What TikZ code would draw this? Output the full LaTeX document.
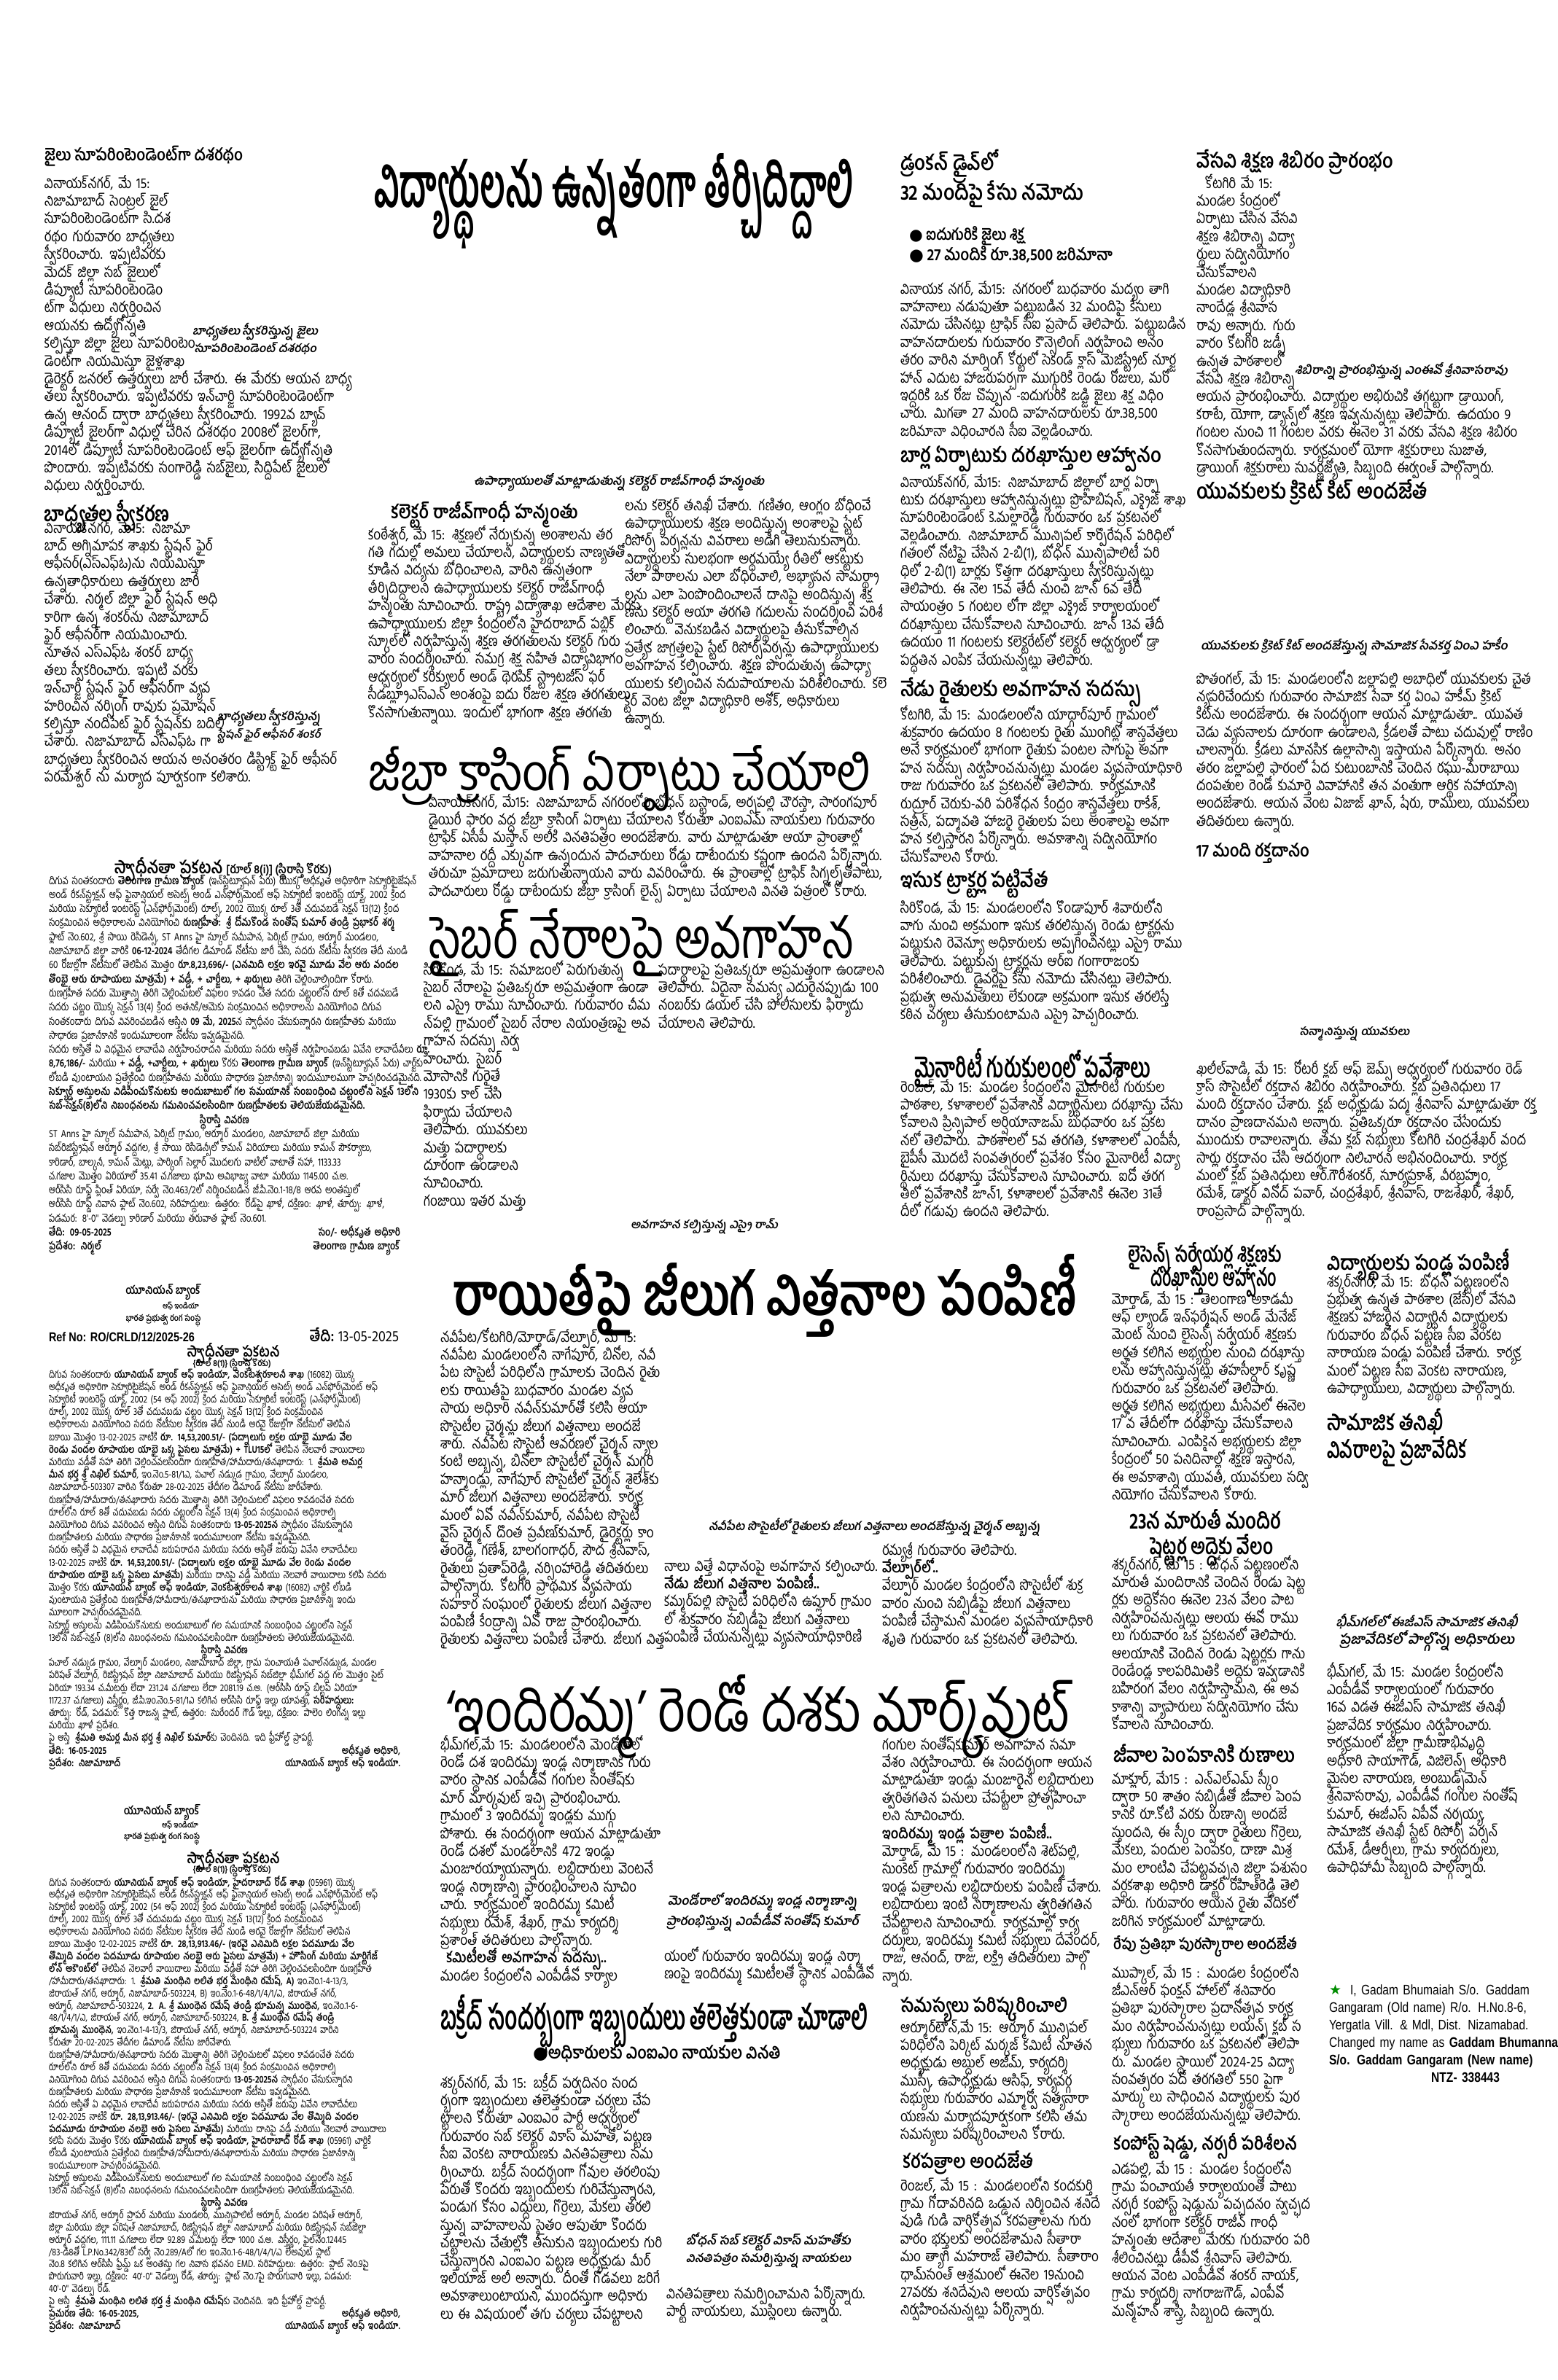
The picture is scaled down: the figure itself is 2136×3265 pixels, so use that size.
\documentclass[tikz,border=0pt]{standalone}
\usepackage{fontspec}
\usepackage{graphicx}
\newfontfamily\tel[Script=Telugu,FakeStretch=0.86]{Hind Guntur}
\newfontfamily\teladd[Script=Telugu,FakeStretch=0.8]{Hind Guntur}
\newfontfamily\telsl[Script=Telugu,FakeSlant=0.18]{Hind Guntur}
\newfontfamily\sym{DejaVu Sans}
\newfontfamily\nsans[FakeStretch=0.82]{Liberation Sans}
\newlength{\pxu}
\setlength{\pxu}{0.5pt}
\newcommand{\fitw}[2]{\resizebox{#1\pxu}{!}{#2}}
\newcommand{\fitwh}[3]{\resizebox{#1\pxu}{#2\pxu}{#3}}
\newcommand{\jrow}[2][\hsize]{\hbox to #1{#2}\break}
\newcommand{\erow}[1]{\hbox{#1}\break}

\begin{document}
\begin{tikzpicture}
  [x=0.5pt, y=-0.5pt,
   every node/.style={inner sep=0pt, outer sep=0pt, anchor=north west, font=\tel},
   txt/.style={anchor=base west, text width=#1, font=\tel\fontsize{10pt}{12.2pt}\selectfont,
     execute at begin node={\lineskiplimit=-100pt\lineskip=0pt\relax},
     execute at end node={\unskip\unpenalty}},
   adtxt/.style 2 args={anchor=base west, text width=241pt, font=\teladd\fontsize{#1}{#2}\selectfont,
     execute at begin node={\lineskiplimit=-100pt\lineskip=0pt\relax},
     execute at end node={\unskip\unpenalty}},
   hd/.style={font=\tel\bfseries},
   th/.style={font=\tel},
   photocap/.style={font=\telsl\bfseries, align=center}]
  \fill[white] (0,0) rectangle (2136,3265);
  \useasboundingbox (0,0) rectangle (2136,3265);

  % left column: news
  \node[hd] (jailhead) at (61,200) {\fitw{272}{జైలు సూపరింటెండెంట్‌గా దశరథం}};
  \node[txt=191.5pt] (jailtext) at (61,258) {%
    \jrow[94pt]{వినాయక్‌నగర్, మే 15:}
    \jrow[94pt]{నిజామాబాద్ సెంట్రల్ జైల్}
    \jrow[94pt]{సూపరింటెండెంట్‌గా సి.దశ}
    \jrow[94pt]{రథం గురువారం బాధ్యతలు}
    \jrow[94pt]{స్వీకరించారు. ఇప్పటివరకు}
    \jrow[94pt]{మెదక్ జిల్లా సబ్ జైలులో}
    \jrow[94pt]{డిప్యూటీ సూపరింటెండెం}
    \jrow[94pt]{ట్‌గా విధులు నిర్వర్తించిన}
    \jrow[94pt]{ఆయనకు ఉద్యోగోన్నతి}
    \jrow[97pt]{కల్పిస్తూ జిల్లా జైలు సూపరింటెం}
    \jrow[97pt]{డెంట్‌గా నియమిస్తూ జైళ్లశాఖ}
    \jrow{డైరెక్టర్ జనరల్ ఉత్తర్వులు జారీ చేశారు. ఈ మేరకు ఆయన బాధ్య}
    \jrow{తలు స్వీకరించారు. ఇప్పటివరకు ఇన్‌చార్జి సూపరింటెండెంట్‌గా}
    \jrow{ఉన్న ఆనంద్ ద్వారా బాధ్యతలు స్వీకరించారు. 1992వ బ్యాచ్}
    \jrow{డిప్యూటీ జైలర్‌గా విధుల్లో చేరిన దశరథం 2008లో జైలర్‌గా,}
    \jrow{2014లో డిప్యూటీ సూపరింటెండెంట్ ఆఫ్ జైలర్‌గా ఉద్యోగోన్నతి}
    \jrow{పొందారు. ఇప్పటివరకు సంగారెడ్డి సబ్‌జైలు, సిద్దిపేట్ జైలులో}
    \erow{విధులు నిర్వర్తించారు.}};
  \node[photocap] (jailcap) at (264,443) {\fitw{172}{బాధ్యతలు స్వీకరిస్తున్న జైలు}\\\fitw{168}{సూపరింటెండెంట్ దశరథం}};

  \node[hd] (firehead) at (61,686) {\fitw{172}{బాధ్యతల స్వీకరణ}};
  \node[txt=191.5pt] (firetext) at (61,731) {%
    \jrow[107.5pt]{వినాయక్‌నగర్, మే15: నిజామా}
    \jrow[107.5pt]{బాద్ అగ్నిమాపక శాఖకు స్టేషన్ ఫైర్}
    \jrow[107.5pt]{ఆఫీసర్(ఎస్ఎఫ్ఓ)ను నియమిస్తూ}
    \jrow[107.5pt]{ఉన్నతాధికారులు ఉత్తర్వులు జారీ}
    \jrow[107.5pt]{చేశారు. నిర్మల్ జిల్లా ఫైర్ స్టేషన్ అధి}
    \jrow[107.5pt]{కారిగా ఉన్న శంకర్‌ను నిజామాబాద్}
    \jrow[107.5pt]{ఫైర్ ఆఫీసర్‌గా నియమించారు.}
    \jrow[107.5pt]{నూతన ఎస్ఎఫ్ఓ శంకర్ బాధ్య}
    \jrow[107.5pt]{తలు స్వీకరించారు. ఇప్పటి వరకు}
    \jrow[107.5pt]{ఇన్‌చార్జి స్టేషన్ ఫైర్ ఆఫీసర్‌గా వ్యవ}
    \jrow[107.5pt]{హరించిన నర్సింగ్ రావుకు ప్రమోషన్}
    \jrow[113pt]{కల్పిస్తూ నందిపేట్ ఫైర్ స్టేషన్‌కు బదిలీ}
    \jrow[107.5pt]{చేశారు. నిజామాబాద్ ఎస్ఎఫ్ఓ గా}
    \jrow{బాధ్యతలు స్వీకరించిన ఆయన అనంతరం డిస్ట్రిక్ట్ ఫైర్ ఆఫీసర్}
    \erow{పరమేశ్వర్ ను మర్యాద పూర్వకంగా కలిశారు.}};
  \node[photocap] (firecap) at (298,972) {\fitw{142}{బాధ్యతలు స్వీకరిస్తున్న}\\\fitw{142}{స్టేషన్ ఫైర్ ఆఫీసర్ శంకర్}};

  % left column: notices
  \node[hd, anchor=north] (ad1head) at (306,1176) {\fitw{298}{స్వాధీనతా ప్రకటన {\fontsize{7pt}{8pt}\selectfont [రూల్ 8(i)] (స్థిరాస్తి కొరకు)}}};
  \node[adtxt={7.3pt}{9.65pt}] (ad1text) at (67,1213) {%
    \jrow{దిగువ సంతకందారు \textbf{తెలంగాణ గ్రామీణ బ్యాంక్} (ఇన్‌స్టిట్యూషన్ పేరు) యొక్క అధీకృత అధికారిగా సెక్యూరిటైజేషన్}
    \jrow{అండ్ రీకన్‌స్ట్రక్షన్ ఆఫ్ ఫైనాన్షియల్ అసెట్స్ అండ్ ఎన్‌ఫోర్స్‌మెంట్ ఆఫ్ సెక్యూరిటీ ఇంటరెస్ట్ యాక్ట్, 2002 క్రింద}
    \jrow{మరియు సెక్యూరిటీ ఇంటరెస్ట్ (ఎన్‌ఫోర్స్‌మెంట్) రూల్స్, 2002 యొక్క రూల్ 3తో చదువబడే సెక్షన్ 13(12) క్రింద}
    \jrow{సంక్రమించిన అధికారాలను వినియోగించి \textbf{రుణగ్రహీత: శ్రీ దోమకొండ సంతోష్ కుమార్ తండ్రి ప్రభాకర్ శర్మ}}
    \jrow{ఫ్లాట్ నెం.602, శ్రీ సాయి రెసిడెన్సీ, ST Anns హై స్కూల్ సమీపాన, పెర్కిట్ గ్రామం, ఆర్మూర్ మండలం,}
    \jrow{నిజామాబాద్ జిల్లా వారికి \textbf{06-12-2024} తేదీగల డిమాండ్ నోటీసు జారీ చేసి, సదరు నోటీసు స్వీకరణ తేదీ నుండి}
    \jrow{60 రోజుల్లోగా నోటీసులో తెలిపిన మొత్తం \textbf{రూ.8,23,696/- (ఎనమిది లక్షల ఇరవై మూడు వేల ఆరు వందల}}
    \erow{\textbf{తొంభై ఆరు రూపాయలు మాత్రమే) + వడ్డీ, + చార్జీలు, + ఖర్చులు} తిరిగి చెల్లించాల్సిందిగా కోరారు.}
    \jrow{రుణగ్రహీత సదరు మొత్తాన్ని తిరిగి చెల్లించుటలో విఫలం కావడం చేత సదరు చట్టంలోని రూల్ 8తో చదవబడే}
    \jrow{సదరు చట్టం యొక్క సెక్షన్ 13(4) క్రింద అతనికి/ఆమెకు సంక్రమించిన అధికారాలను వినియోగించి దిగువ}
    \jrow{సంతకందారు దిగువ వివరించబడిన ఆస్తిని \textbf{09 మే, 2025}న స్వాధీనం చేసుకున్నారని రుణగ్రహీతకు మరియు}
    \erow{సాధారణ ప్రజానీకానికి ఇందుమూలంగా నోటీసు ఇవ్వడమైనది.}
    \jrow{సదరు ఆస్తితో ఏ విధమైన లావాదేవి నిర్వహించరాదని మరియు సదరు ఆస్తితో నిర్వహించబడు ఏవేని లావాదేవీలు \textbf{రూ.}}
    \jrow{\textbf{8,76,186/-} మరియు \textbf{+ వడ్డీ, +చార్జీలు, + ఖర్చులు} కొరకు \textbf{తెలంగాణ గ్రామీణ బ్యాంక్} (ఇన్‌స్టిట్యూషన్ పేరు) చార్జ్‌కు}
    \jrow{లోబడి వుంటాయని ప్రత్యేకించి రుణగ్రహీతను మరియు సాధారణ ప్రజానీకాన్ని ఇందుమూలముగా హెచ్చరించడమైనది.}
    \jrow{\textbf{సెక్యూర్డ్ అస్తులను విడిపించుకొనుటకు అందుబాటులో గల సమయానికి సంబంధించి చట్టంలోని సెక్షన్ 13లోని}}
    \erow{\textbf{సబ్-సెక్షన్(8)లోని నిబంధనలను గమనించవలసిందిగా రుణగ్రహీతలకు తెలియజేయడమైనది.}}
    \jrow{\hfil\textbf{స్థిరాస్తి వివరణ}\hfil}
    \jrow{ST Anns హై స్కూల్ సమీపాన, పెర్కిట్ గ్రామం, ఆర్మూర్ మండలం, నిజామాబాద్ జిల్లా మరియు}
    \jrow{సబ్‌రిజిస్ట్రేషన్ ఆర్మూర్ వద్దగల, శ్రీ సాయి రెసిడెన్సీలో కామన్ ఏరియాలు మరియు కామన్ సౌకర్యాలు,}
    \jrow{కారిడార్, బాల్కనీ, కామన్ మెట్లు, పార్కింగ్ సెల్లార్ మొదలగు వాటిలో వాటాతో సహా, 1133.33}
    \jrow{చ.గజాల మొత్తం ఏరియాలో 35.41 చ.గజాలు భూమి అవిభాజ్య వాటా మరియు 1145.00 చ.అ.}
    \jrow{ఆర్‌సిసి రూఫ్డ్ ప్లింత్ ఏరియా, సర్వే నెం.463/2లో నిర్మించబడిన జీ.పి.నెం.1-18/8 ఆరవ అంతస్తులో}
    \jrow{ఆర్‌సిసి రూఫ్డ్ నివాస ఫ్లాట్ నెం.602, సరిహద్దులు: ఉత్తరం: రోడ్‌పై ఖాళీ, దక్షిణం: ఖాళీ, తూర్పు: ఖాళీ,}
    \erow{పడమర: 8'-0'' వెడల్పు కారిడార్ మరియు తరువాత ఫ్లాట్ నెం.601.}
    \jrow{\textbf{తేది: 09-05-2025}\hfil\textbf{సం/- అధీకృత అధికారి}}
    \jrow{\textbf{ప్రదేశం: నిర్మల్}\hfil\textbf{తెలంగాణ గ్రామీణ బ్యాంక్}}};

  \node[hd, anchor=north] (ad2bank) at (224,1762) {\fitw{103}{యూనియన్ బ్యాంక్}};
  \node[hd, anchor=north] (ad2of) at (248,1786) {\fitw{50}{ఆఫ్ ఇండియా}};
  \node[hd, anchor=north] (ad2gov) at (224,1803) {\fitw{103}{భారత ప్రభుత్వ రంగ సంస్థ}};
  \node[anchor=base west] (ad2ref) at (67,1840) {\fitw{200}{\nsans\bfseries Ref No: RO/CRLD/12/2025-26}};
  \node[anchor=base east] (ad2date) at (547,1840) {\fitw{122}{\textbf{తేది:} 13-05-2025}};
  \node[hd, anchor=north] (ad2title) at (320,1843) {\fitw{127}{స్వాధీనతా ప్రకటన}};
  \node[hd, anchor=north] (ad2rule) at (318,1864) {\fitw{107}{\{రూల్ 8(1)\} (స్థిరాస్తి కొరకు)}};
  \node[adtxt={6.9pt}{8.6pt}] (ad2text) at (67,1890) {%
    \jrow{దిగువ సంతకందారు \textbf{యూనియన్ బ్యాంక్ ఆఫ్ ఇండియా, వెంకటేశ్వరకాలనీ శాఖ} (16082) యొక్క}
    \jrow{అధీకృత అధికారిగా సెక్యూరిటైజేషన్ అండ్ రీకన్‌స్ట్రక్షన్ ఆఫ్ ఫైనాన్షియల్ అసెట్స్ అండ్ ఎన్‌ఫోర్స్‌మెంట్ ఆఫ్}
    \jrow{సెక్యూరిటీ ఇంటరెస్ట్ యాక్ట్, 2002 (54 ఆఫ్ 2002) క్రింద మరియు సెక్యూరిటీ ఇంటరెస్ట్ (ఎన్‌ఫోర్స్‌మెంట్)}
    \jrow{రూల్స్, 2002 యొక్క రూల్ 3తో చదువబడు చట్టం యొక్క సెక్షన్ 13(12) క్రింద సంక్రమించిన}
    \jrow{అధికారాలను వినియోగించి సదరు నోటీసుల స్వీకరణ తేదీ నుండి అరవై రోజుల్లోగా నోటీసులో తెలిపిన}
    \jrow{బకాయి మొత్తం 13-02-2025 నాటికి \textbf{రూ. 14,53,200.51/- (పద్నాలుగు లక్షల యాభై మూడు వేల}}
    \jrow{\textbf{రెండు వందల రూపాయల యాభై ఒక్క పైసలు మాత్రమే) + TLU15లో} తెలిపిన నెలవారీ వాయిదాలు}
    \jrow{మరియు వడ్డీతో సహా తిరిగి చెల్లించవలసిందిగా రుణగ్రహీత/హామీదారు/తనఖాదారు: 1. \textbf{శ్రీమతి అమర్ల}}
    \jrow{\textbf{మీన భర్త శ్రీ నిఖిల్ కుమార్}, ఇం.నెం.5-81/1ఎ, పచాల్ నడ్కుడ గ్రామం, వేల్పూర్ మండలం,}
    \erow{నిజామాబాద్-503307 వారిని కోరుతూ 28-02-2025 తేదీగల డిమాండ్ నోటీసు జారీచేశారు.}
    \jrow{రుణగ్రహీత/హామీదారు/తనఖాదారు సదరు మొత్తాన్ని తిరిగి చెల్లించుటలో విఫలం కావడంచేత సదరు}
    \jrow{రూల్‌లోని రూల్ 8తో చదువబడు సదరు చట్టంలోని సెక్షన్ 13(4) క్రింద సంక్రమించిన అధికారాల్ని}
    \jrow{వినియోగించి దిగువ వివరించిన ఆస్తిని దిగువ సంతకందారు \textbf{13-05-2025న} స్వాధీనం చేసుకున్నారని}
    \erow{రుణగ్రహీతలకు మరియు సాధారణ ప్రజానీకానికి ఇందుమూలంగా నోటీసు ఇవ్వడమైనది.}
    \jrow{సదరు ఆస్తితో ఏ విధమైన లావాదేవీ జరుపరాదని మరియు సదరు ఆస్తితో జరుపు ఏవేని లావాదేవీలు}
    \jrow{13-02-2025 నాటికి \textbf{రూ. 14,53,200.51/- (పద్నాలుగు లక్షల యాభై మూడు వేల రెండు వందల}}
    \jrow{\textbf{రూపాయల యాభై ఒక్క పైసలు మాత్రమే)} మరియు దానిపై వడ్డీ మరియు నెలవారీ వాయిదాలు కలిపి సదరు}
    \jrow{మొత్తం కొరకు \textbf{యూనియన్ బ్యాంక్ ఆఫ్ ఇండియా, వెంకటేశ్వరకాలనీ శాఖ} (16082) చార్జికి లోబడి}
    \jrow{వుంటాయని ప్రత్యేకించి రుణగ్రహీత/హామీదారు/తనఖాదారును మరియు సాధారణ ప్రజానీకాన్ని ఇందు}
    \erow{మూలంగా హెచ్చరించడమైనది.}
    \jrow{సెక్యూర్డ్ ఆస్తులను విడిపించుకొనుటకు అందుబాటులో గల సమయానికి సంబంధించి చట్టంలోని సెక్షన్}
    \erow{13లోని సబ్-సెక్షన్ (8)లోని నిబంధనలను గమనించవలసిందిగా రుణగ్రహీతలకు తెలియజేయడమైనది.}
    \jrow{\hfil\textbf{స్థిరాస్తి వివరణ}\hfil}
    \jrow{పచాల్ నడ్కుడ గ్రామం, వేల్పూర్ మండలం, నిజామాబాద్ జిల్లా, గ్రామ పంచాయతీ పచాల్‌నడ్కుడ, మండల}
    \jrow{పరిషత్ వేల్పూర్, రిజిస్ట్రేషన్ జిల్లా నిజామాబాద్ మరియు రిజిస్ట్రేషన్ సబ్‌జిల్లా భీమ్‌గల్ వద్ద గల మొత్తం సైట్}
    \jrow{ఏరియా 193.34 చ.మీటర్లు లేదా 231.24 చ.గజాలు లేదా 2081.19 చ.అ. (ఆర్‌సిసి రూఫ్డ్ బిల్టప్ ఏరియా}
    \jrow{1172.37 చ.గజాలు) విస్తీర్ణం, జీ.పి.ఇం.నెం.5-81/1ఎ కలిగిన ఆర్‌సిసి రూఫ్డ్ ఇల్లు యావత్తు, \textbf{సరిహద్దులు:}}
    \jrow{తూర్పు: రోడ్, పడమర: కొత్త రాజన్న ప్లాట్, ఉత్తరం: సురేందర్ గౌడ్ ఇల్లు, దక్షిణం: పాలెం లింగన్న ఇల్లు}
    \erow{మరియు ఖాళీ ప్రదేశం.}
    \erow{పై ఆస్తి \textbf{శ్రీమతి అమర్ల మీన భర్త శ్రీ నిఖిల్ కుమార్}‌కు చెందినది. ఇది ఫ్రీహోల్డ్ ప్రాపర్టీ.}
    \jrow{\textbf{తేది: 16-05-2025}\hfil\textbf{అధీకృత అధికారి,}}
    \jrow{\textbf{ప్రదేశం: నిజామాబాద్}\hfil\textbf{యూనియన్ బ్యాంక్ ఆఫ్ ఇండియా.}}};

  \node[hd, anchor=north] (ad3bank) at (222,2475) {\fitw{104}{యూనియన్ బ్యాంక్}};
  \node[hd, anchor=north] (ad3of) at (247,2498) {\fitw{50}{ఆఫ్ ఇండియా}};
  \node[hd, anchor=north] (ad3gov) at (222,2514) {\fitw{104}{భారత ప్రభుత్వ రంగ సంస్థ}};
  \node[hd, anchor=north] (ad3title) at (320,2538) {\fitw{127}{స్వాధీనతా ప్రకటన}};
  \node[hd, anchor=north] (ad3rule) at (318,2558) {\fitw{107}{\{రూల్ 8(1)\} (స్థిరాస్తి కొరకు)}};
  \node[adtxt={6.9pt}{8.45pt}] (ad3text) at (67,2587) {%
    \jrow{దిగువ సంతకందారు \textbf{యూనియన్ బ్యాంక్ ఆఫ్ ఇండియా, హైదరాబాద్ రోడ్ శాఖ} (05961) యొక్క}
    \jrow{అధీకృత అధికారిగా సెక్యూరిటైజేషన్ అండ్ రీకన్‌స్ట్రక్షన్ ఆఫ్ ఫైనాన్షియల్ అసెట్స్ అండ్ ఎన్‌ఫోర్స్‌మెంట్ ఆఫ్}
    \jrow{సెక్యూరిటీ ఇంటరెస్ట్ యాక్ట్, 2002 (54 ఆఫ్ 2002) క్రింద మరియు సెక్యూరిటీ ఇంటరెస్ట్ (ఎన్‌ఫోర్స్‌మెంట్)}
    \jrow{రూల్స్, 2002 యొక్క రూల్ 3తో చదువబడు చట్టం యొక్క సెక్షన్ 13(12) క్రింద సంక్రమించిన}
    \jrow{అధికారాలను వినియోగించి సదరు నోటీసుల స్వీకరణ తేదీ నుండి అరవై రోజుల్లోగా నోటీసులో తెలిపిన}
    \jrow{బకాయి మొత్తం 12-02-2025 నాటికి \textbf{రూ. 28,13,913.46/- (ఇరవై ఎనిమిది లక్షల పదమూడు వేల}}
    \jrow{\textbf{తొమ్మిది వందల పదమూడు రూపాయల నలభై ఆరు పైసలు మాత్రమే) + హౌసింగ్ మరియు మార్టిగేజ్}}
    \jrow{\textbf{లోన్ అకౌంట్‌లో} తెలిపిన నెలవారీ వాయిదాలు మరియు వడ్డీతో సహా తిరిగి చెల్లించవలసిందిగా రుణగ్రహీత}
    \jrow{/హామీదారు/తనఖాదారు: 1. \textbf{శ్రీమతి మంథిని లలిత భర్త మంథిని రమేష్, A)} ఇం.నెం.1-4-13/3,}
    \jrow{జిరాయత్ నగర్, ఆర్మూర్, నిజామాబాద్-503224, B) ఇం.నెం.1-6-48/1/4/1/ఎ, జిరాయత్ నగర్,}
    \jrow{ఆర్మూర్, నిజామాబాద్-503224, \textbf{2. A. శ్రీ ముంథెన రమేష్ తండ్రి భూమన్న ముంథెన,} ఇం.నెం.1-6-}
    \jrow{48/1/4/1/ఎ, జిరాయత్ నగర్, ఆర్మూర్, నిజామాబాద్-503224, \textbf{B. శ్రీ ముంథెన రమేష్ తండ్రి}}
    \jrow{\textbf{భూమన్న ముంథెన,} ఇం.నెం.1-4-13/3, జిరాయత్ నగర్, ఆర్మూర్, నిజామాబాద్-503224 వారిని}
    \erow{కోరుతూ 20-02-2025 తేదీగల డిమాండ్ నోటీసు జారీచేశారు.}
    \jrow{రుణగ్రహీత/హామీదారు/తనఖాదారు సదరు మొత్తాన్ని తిరిగి చెల్లించుటలో విఫలం కావడంచేత సదరు}
    \jrow{రూల్‌లోని రూల్ 8తో చదువబడు సదరు చట్టంలోని సెక్షన్ 13(4) క్రింద సంక్రమించిన అధికారాల్ని}
    \jrow{వినియోగించి దిగువ వివరించిన ఆస్తిని దిగువ సంతకందారు \textbf{13-05-2025న} స్వాధీనం చేసుకున్నారని}
    \erow{రుణగ్రహీతలకు మరియు సాధారణ ప్రజానీకానికి ఇందుమూలంగా నోటీసు ఇవ్వడమైనది.}
    \jrow{సదరు ఆస్తితో ఏ విధమైన లావాదేవీ జరుపరాదని మరియు సదరు ఆస్తితో జరుపు ఏవేని లావాదేవీలు}
    \jrow{12-02-2025 నాటికి \textbf{రూ. 28,13,913.46/- (ఇరవై ఎనిమిది లక్షల పదమూడు వేల తొమ్మిది వందల}}
    \jrow{\textbf{పదమూడు రూపాయల నలభై ఆరు పైసలు మాత్రమే)} మరియు దానిపై వడ్డీ మరియు నెలవారీ వాయిదాలు}
    \jrow{కలిపి సదరు మొత్తం కొరకు \textbf{యూనియన్ బ్యాంక్ ఆఫ్ ఇండియా, హైదరాబాద్ రోడ్ శాఖ} (05961) చార్జికి}
    \jrow{లోబడి వుంటాయని ప్రత్యేకించి రుణగ్రహీత/హామీదారు/తనఖాదారును మరియు సాధారణ ప్రజానీకాన్ని}
    \erow{ఇందుమూలంగా హెచ్చరించడమైనది.}
    \jrow{సెక్యూర్డ్ ఆస్తులను విడిపించుకొనుటకు అందుబాటులో గల సమయానికి సంబంధించి చట్టంలోని సెక్షన్}
    \erow{13లోని సబ్-సెక్షన్ (8)లోని నిబంధనలను గమనించవలసిందిగా రుణగ్రహీతలకు తెలియజేయడమైనది.}
    \jrow{\hfil\textbf{స్థిరాస్తి వివరణ}\hfil}
    \jrow{జిరాయత్ నగర్, ఆర్మూర్ ప్రాపర్ మరియు మండలం, మున్సిపాలిటీ ఆర్మూర్, మండల పరిషత్ ఆర్మూర్,}
    \jrow{జిల్లా మరియు జిల్లా పరిషత్ నిజామాబాద్, రిజిస్ట్రేషన్ జిల్లా నిజామాబాద్ మరియు రిజిస్ట్రేషన్ సబ్‌జిల్లా}
    \jrow{ఆర్మూర్ వద్దగల, 111.11 చ.గజాలు లేదా 92.89 చ.మీటర్లు లేదా 1000 చ.అ. విస్తీర్ణం, ఫైల్‌నెం.12445}
    \jrow{/83-డి8తో L.P.No.342/83లో సర్వే నెం.289/Aలో గల ఇం.నెం.1-6-48/1/4/1/ఎ లేఅవుట్ ప్లాట్}
    \jrow{నెం.8 కలిగిన ఆర్‌సిసి ఫ్రేమ్డ్ ఒక అంతస్తు గల నివాస భవనం EMD. సరిహద్దులు: ఉత్తరం: ప్లాట్ నెం.9పై}
    \jrow{పొరుగువారి ఇల్లు, దక్షిణం: 40'-0'' వెడల్పు రోడ్, తూర్పు: ప్లాట్ నెం.7పై పొరుగువారి ఇల్లు, పడమర:}
    \erow{40'-0'' వెడల్పు రోడ్.}
    \erow{పై ఆస్తి \textbf{శ్రీమతి మంథిని లలిత భర్త శ్రీ మంథిని రమేష్}‌కు చెందినది. ఇది ఫ్రీహోల్డ్ ప్రాపర్టీ.}
    \jrow{\textbf{ప్రచురణ తేది: 16-05-2025,}\hfil\textbf{అధీకృత అధికారి,}}
    \jrow{\textbf{ప్రదేశం: నిజామాబాద్}\hfil\textbf{యూనియన్ బ్యాంక్ ఆఫ్ ఇండియా.}}};

  % centre: top story
  \node[hd] (mainhead) at (513,210) {\fitwh{658}{74}{విద్యార్థులను ఉన్నతంగా తీర్చిదిద్దాలి}};
  \node[photocap, anchor=north] (maincap) at (849,650) {\fitw{398}{ఉపాధ్యాయులతో మాట్లాడుతున్న కలెక్టర్ రాజీవ్‌గాంధీ హన్మంతు}};
  \node[hd] (mainsub) at (536,688) {\fitw{256}{కలెక్టర్ రాజీవ్‌గాంధీ హన్మంతు}};
  \node[txt=168.5pt] (maintexta) at (505,740) {%
    \jrow{కంఠేశ్వర్, మే 15: శిక్షణలో నేర్చుకున్న అంశాలను తర}
    \jrow{గతి గదుల్లో అమలు చేయాలని, విద్యార్థులకు నాణ్యతతో}
    \jrow{కూడిన విద్యను బోధించాలని, వారిని ఉన్నతంగా}
    \jrow{తీర్చిదిద్దాలని ఉపాధ్యాయులకు కలెక్టర్ రాజీవ్‌గాంధీ}
    \jrow{హన్మంతు సూచించారు. రాష్ట్ర విద్యాశాఖ ఆదేశాల మేరకు}
    \jrow{ఉపాధ్యాయులకు జిల్లా కేంద్రంలోని హైదరాబాద్ పబ్లిక్}
    \jrow{స్కూల్‌లో నిర్వహిస్తున్న శిక్షణ తరగతులను కలెక్టర్ గురు}
    \jrow{వారం సందర్శించారు. సమగ్ర శిక్ష సహిత విద్యావిభాగం}
    \jrow{ఆధ్వర్యంలో కరిక్యులర్ అండ్ థెరపిక్ స్ట్రాటజీస్ ఫర్}
    \jrow{సీడబ్ల్యూఎస్ఎన్ అంశంపై ఐదు రోజుల శిక్షణ తరగతులు}
    \jrow{కొనసాగుతున్నాయి. ఇందులో భాగంగా శిక్షణ తరగతు}};
  \node[txt=168.5pt] (maintextb) at (857,700) {%
    \jrow{లను కలెక్టర్ తనిఖీ చేశారు. గణితం, ఆంగ్లం బోధించే}
    \jrow{ఉపాధ్యాయులకు శిక్షణ అందిస్తున్న అంశాలపై స్టేట్}
    \jrow{రిసోర్స్ పర్సన్లను వివరాలు అడిగి తెలుసుకున్నారు.}
    \jrow{విద్యార్థులకు సులభంగా అర్థమయ్యే రీతిలో ఆకట్టుకు}
    \jrow{నేలా పాఠాలను ఎలా బోధించాలి, అభ్యాసన సామర్థ్యా}
    \jrow{లను ఎలా పెంపొందించాలనే దానిపై అందిస్తున్న శిక్ష}
    \jrow{ణను కలెక్టర్ ఆయా తరగతి గదులను సందర్శించి పరిశీ}
    \jrow{లించారు. వెనుకబడిన విద్యార్థులపై తీసుకోవాల్సిన}
    \jrow{ప్రత్యేక జాగ్రత్తలపై స్టేట్ రిసోర్స్‌పర్సన్లు ఉపాధ్యాయులకు}
    \jrow{అవగాహన కల్పించారు. శిక్షణ పొందుతున్న ఉపాధ్యా}
    \jrow{యులకు కల్పించిన సదుపాయాలను పరిశీలించారు. కలె}
    \jrow{క్టర్ వెంట జిల్లా విద్యాధికారి అశోక్, అధికారులు}
    \erow{ఉన్నారు.}};

  \node[th] (zebrahead) at (505,1022) {\fitwh{689}{62}{జీబ్రా క్రాసింగ్ ఏర్పాటు చేయాలి}};
  \node[txt=303pt] (zebratext) at (588,1107) {%
    \jrow{వినాయక్‌నగర్, మే15: నిజామాబాద్ నగరంలోని బోధన్ బస్టాండ్, అర్సపల్లి చౌరస్తా, సారంగపూర్}
    \jrow{డైయిరీ ఫారం వద్ద జీబ్రా క్రాసింగ్ ఏర్పాటు చేయాలని కోరుతూ ఎంఐఎమ్ నాయకులు గురువారం}
    \jrow{ట్రాఫిక్ ఏసీపీ మస్తాన్ అలీకి వినతిపత్రం అందజేశారు. వారు మాట్లాడుతూ ఆయా ప్రాంతాల్లో}
    \jrow{వాహనాల రద్దీ ఎక్కువగా ఉన్నందున పాదచారులు రోడ్డు దాటేందుకు కష్టంగా ఉందని పేర్కొన్నారు.}
    \jrow{తరుచూ ప్రమాదాలు జరుగుతున్నాయని వారు వివరించారు. ఈ ప్రాంతాల్లో ట్రాఫిక్ సిగ్నల్స్‌తోపాటు,}
    \jrow{పాదచారులు రోడ్డు దాటేందుకు జీబ్రా క్రాసింగ్ లైన్స్ ఏర్పాటు చేయాలని వినతి పత్రంలో కోరారు.}};

  \node[th] (cyberhead) at (589,1246) {\fitwh{582}{68}{సైబర్ నేరాలపై అవగాహన}};
  \node[txt=149.5pt] (cybertexta) at (581,1337) {%
    \jrow{సిరికొండ, మే 15: సమాజంలో పెరుగుతున్న}
    \jrow{సైబర్ నేరాలపై ప్రతిఒక్కరూ అప్రమత్తంగా ఉండా}
    \jrow{లని ఎస్సై రాము సూచించారు. గురువారం చీమ}
    \jrow{న్‌పల్లి గ్రామంలో సైబర్ నేరాల నియంత్రణపై అవ}
    \jrow[71pt]{గాహన సదస్సు నిర్వ}
    \jrow[71pt]{హించారు. సైబర్}
    \jrow[71pt]{మోసానికి గురైతే}
    \jrow[71pt]{1930కు కాల్ చేసి}
    \jrow[71pt]{ఫిర్యాదు చేయాలని}
    \jrow[71pt]{తెలిపారు. యువకులు}
    \jrow[71pt]{మత్తు పదార్థాలకు}
    \jrow[71pt]{దూరంగా ఉండాలని}
    \erow{సూచించారు.}
    \jrow[71pt]{గంజాయి ఇతర మత్తు}};
  \node[txt=145.5pt] (cybertextb) at (903,1337) {%
    \jrow{పదార్థాలపై ప్రతిఒక్కరూ అప్రమత్తంగా ఉండాలని}
    \jrow{తెలిపారు. ఏదైనా సమస్య ఎదురైనప్పుడు 100}
    \jrow{నంబర్‌కు డయల్ చేసి పోలీసులకు ఫిర్యాదు}
    \erow{చేయాలని తెలిపారు.}};
  \node[photocap] (cybercap) at (865,1672) {\fitw{202}{అవగాహన కల్పిస్తున్న ఎస్సై రామ్}};

  % centre: seeds story
  \node[hd] (seedhead) at (620,1720) {\fitwh{857}{84}{రాయితీపై జీలుగ విత్తనాల పంపిణీ}};
  \node[txt=141.5pt] (seedtexta) at (604,1841) {%
    \jrow{నవీపేట/కోటగిరి/మోర్తాడ్/వేల్పూర్, మే 15:}
    \jrow{నవీపేట మండలంలోని నాగేపూర్, బినోల, నవీ}
    \jrow{పేట సొసైటీ పరిధిలోని గ్రామాలకు చెందిన రైతు}
    \jrow{లకు రాయితీపై బుధవారం మండల వ్యవ}
    \jrow{సాయ అధికారి నవీన్‌కుమార్‌తో కలిసి ఆయా}
    \jrow{సొసైటీల చైర్మన్లు జీలుగ విత్తనాలు అందజే}
    \jrow{శారు. నవీపేట సొసైటీ ఆవరణలో చైర్మన్ న్యాల}
    \jrow{కంటి అబ్బన్న, బినోలా సొసైటీలో చైర్మన్ మగ్గరి}
    \jrow{హన్మాండ్లు, నాగేపూర్ సొసైటీలో చైర్మన్ శైలేశ్‌కు}
    \jrow{మార్ జీలుగ విత్తనాలు అందజేశారు. కార్యక్ర}
    \jrow{మంలో ఏవో నవీన్‌కుమార్, నవీపేట సొసైటీ}
    \jrow{వైస్ చైర్మన్ దొంత ప్రవీణ్‌కుమార్, డైరెక్టర్లు కాం}
    \jrow{తంరెడ్డి, గణేశ్, బాలగంగాధర్, సౌద శ్రీనివాస్,}
    \jrow{రైతులు ప్రతాప్‌రెడ్డి, నర్సింహారెడ్డి తదితరులు}
    \jrow{పాల్గొన్నారు. కోటగిరి ప్రాథమిక వ్యవసాయ}
    \jrow{సహకార సంఘంలో రైతులకు జీలుగ విత్తనాల}
    \jrow{పంపిణీ కేంద్రాన్ని ఏవో రాజు ప్రారంభించారు.}
    \jrow{రైతులకు విత్తనాలు పంపిణీ చేశారు. జీలుగ విత్త}};
  \node[photocap] (seedcap) at (972,2083) {\fitw{455}{నవీపేట సొసైటీలో రైతులకు జీలుగ విత్తనాలు అందజేస్తున్న చైర్మన్ అబ్బన్న}};
  \node[txt=135pt] (seedtextb) at (911,2155) {%
    \jrow{నాలు విత్తే విధానంపై అవగాహన కల్పించారు.}
    \erow{\bfseries నేడు జీలుగ విత్తనాల పంపిణీ..}
    \jrow{కమ్మర్‌పల్లి సొసైటీ పరిధిలోని ఉప్లూర్ గ్రామం}
    \jrow{లో శుక్రవారం సబ్సిడీపై జీలుగ విత్తనాలు}
    \jrow{పంపిణీ చేయనున్నట్లు వ్యవసాయాధికారిణి}};
  \node[txt=140pt] (seedtextc) at (1210,2133) {%
    \erow{రమ్యశ్రీ గురువారం తెలిపారు.}
    \erow{\bfseries వేల్పూర్‌లో..}
    \jrow{వేల్పూర్ మండల కేంద్రంలోని సొసైటీలో శుక్ర}
    \jrow{వారం నుంచి సబ్సిడీపై జీలుగ విత్తనాలు}
    \jrow{పంపిణీ చేస్తామని మండల వ్యవసాయాధికారి}
    \erow{శృతి గురువారం ఒక ప్రకటనలో తెలిపారు.}};

  % centre: housing story
  \node[th] (househead) at (612,2297) {\fitwh{856}{78}{‘ఇందిరమ్మ’ రెండో దశకు మార్క్‌వుట్}};
  \node[txt=141.5pt] (housetexta) at (604,2400) {%
    \jrow{భీమ్‌గల్,మే 15: మండలంలోని మెండోరాలో}
    \jrow{రెండో దశ ఇందిరమ్మ ఇండ్ల నిర్మాణానికి గురు}
    \jrow{వారం స్థానిక ఎంపీడీవో గంగుల సంతోష్‌కు}
    \jrow{మార్ మార్కవుట్ ఇచ్చి ప్రారంభించారు.}
    \jrow{గ్రామంలో 3 ఇందిరమ్మ ఇండ్లకు ముగ్గు}
    \jrow{పోశారు. ఈ సందర్భంగా ఆయన మాట్లాడుతూ}
    \jrow{రెండో దశలో మండలానికి 472 ఇండ్లు}
    \jrow{మంజూరయ్యాయన్నారు. లబ్ధిదారులు వెంటనే}
    \jrow{ఇండ్ల నిర్మాణాన్ని ప్రారంభించాలని సూచిం}
    \jrow{చారు. కార్యక్రమంలో ఇందిరమ్మ కమిటీ}
    \jrow{సభ్యులు రమేశ్, శేఖర్, గ్రామ కార్యదర్శి}
    \erow{ప్రశాంత్ తదితరులు పాల్గొన్నారు.}
    \erow{\bfseries\hskip4pt కమిటీలతో అవగాహన సదస్సు..}
    \jrow{మండల కేంద్రంలోని ఎంపీడీవో కార్యాల}};
  \node[photocap] (housecap) at (914,2597) {\fitw{260}{మెండోరాలో ఇందిరమ్మ ఇండ్ల నిర్మాణాన్ని}\\\fitw{264}{ప్రారంభిస్తున్న ఎంపీడీవో సంతోష్ కుమార్}};
  \node[txt=135pt] (housetextb) at (911,2690) {%
    \jrow{యంలో గురువారం ఇందిరమ్మ ఇండ్ల నిర్మా}
    \jrow{ణంపై ఇందిరమ్మ కమిటీలతో స్థానిక ఎంపీడీవో}};
  \node[txt=140pt] (housetextc) at (1210,2400) {%
    \jrow{గంగుల సంతోష్‌కుమార్ అవగాహన సమా}
    \jrow{వేశం నిర్వహించారు. ఈ సందర్భంగా ఆయన}
    \jrow{మాట్లాడుతూ ఇండ్లు మంజూరైన లబ్ధిదారులు}
    \jrow{త్వరితగతిన పనులు చేపట్టేలా ప్రోత్సహించా}
    \erow{లని సూచించారు.}
    \erow{\bfseries ఇందిరమ్మ ఇండ్ల పత్రాల పంపిణీ..}
    \jrow{మోర్తాడ్, మే 15 : మండలంలోని శెట్‌పల్లి,}
    \jrow{సుంకెట్ గ్రామాల్లో గురువారం ఇందిరమ్మ}
    \jrow{ఇండ్ల పత్రాలను లబ్ధిదారులకు పంపిణీ చేశారు.}
    \jrow{లబ్ధిదారులు ఇంటి నిర్మాణాలను త్వరితగతిన}
    \jrow{చేపట్టాలని సూచించారు. కార్యక్రమాల్లో కార్య}
    \jrow{దర్శులు, ఇందిరమ్మ కమిటీ సభ్యులు దేవేందర్,}
    \jrow{రాజు, ఆనంద్, రాజు, లక్ష్మి తదితరులు పాల్గొ}
    \erow{న్నారు.}};

  % centre: bakrid story
  \node[hd] (bakhead) at (604,2736) {\fitwh{587}{48}{బక్రీద్ సందర్భంగా ఇబ్బందులు తలెత్తకుండా చూడాలి}};
  \node[hd] (baksub) at (731,2806) {\fitw{340}{{\sym ●}అధికారులకు ఎంఐఎం నాయకుల వినతి}};
  \node[txt=141.5pt] (baktexta) at (604,2864) {%
    \jrow{శక్కర్‌నగర్, మే 15: బక్రీద్ పర్వదినం సంద}
    \jrow{ర్భంగా ఇబ్బందులు తలెత్తకుండా చర్యలు చేప}
    \jrow{ట్టాలని కోరుతూ ఎంఐఎం పార్టీ ఆధ్వర్యంలో}
    \jrow{గురువారం సబ్ కలెక్టర్ వికాస్ మహతో, పట్టణ}
    \jrow{సీఐ వెంకట నారాయణకు వినతిపత్రాలు సమ}
    \jrow{ర్పించారు. బక్రీద్ సందర్భంగా గోవుల తరలింపు}
    \jrow{పేరుతో కొందరు ఇబ్బందులకు గురిచేస్తున్నారని,}
    \jrow{పండుగ కోసం ఎద్దులు, గొర్రెలు, మేకలు తరలి}
    \jrow{స్తున్న వాహనాలను సైతం ఆపుతూ కొందరు}
    \jrow{చట్టాలను చేతుల్లోకి తీసుకుని ఇబ్బందులకు గురి}
    \jrow{చేస్తున్నారని ఎంఐఎం పట్టణ అధ్యక్షుడు మీర్}
    \jrow{ఇలియాజ్ అలీ అన్నారు. దీంతో గొడవలు జరిగే}
    \jrow{అవకాశాలుంటాయని, ముందస్తుగా అధికారు}
    \jrow{లు ఈ విషయంలో తగు చర్యలు చేపట్టాలని}};
  \node[photocap, anchor=north] (bakcap) at (1054,3063) {\fitw{226}{బోధన్ సబ్ కలెక్టర్ వికాస్ మహతోకు}\\\fitw{226}{వినతిపత్రం సమర్పిస్తున్న నాయకులు}};
  \node[txt=140pt] (baktextb) at (914,3153) {%
    \jrow{వినతిపత్రాలు సమర్పించామని పేర్కొన్నారు.}
    \erow{పార్టీ నాయకులు, ముస్లింలు ఉన్నారు.}};

  % right block, first column
  \node[hd] (drunkheada) at (1235,205) {\fitw{132}{డ్రంకన్ డ్రైవ్‌లో}};
  \node[hd] (drunkheadb) at (1235,248) {\fitw{251}{32 మందిపై కేసు నమోదు}};
  \node[hd] (drunkpointa) at (1247,311) {\fitw{158}{{\sym ●} ఐదుగురికి జైలు శిక్ష}};
  \node[hd] (drunkpointb) at (1247,337) {\fitw{279}{{\sym ●} 27 మందికి రూ.38,500 జరిమానా}};
  \node[txt=179pt] (drunktext) at (1235,403) {%
    \jrow{వినాయక నగర్, మే15: నగరంలో బుధవారం మద్యం తాగి}
    \jrow{వాహనాలు నడుపుతూ పట్టుబడిన 32 మందిపై కేసులు}
    \jrow{నమోదు చేసినట్లు ట్రాఫిక్ సీఐ ప్రసాద్ తెలిపారు. పట్టుబడిన}
    \jrow{వాహనదారులకు గురువారం కౌన్సెలింగ్ నిర్వహించి అనం}
    \jrow{తరం వారిని మార్నింగ్ కోర్టులో సెకండ్ క్లాస్ మెజిస్ట్రేట్ నూర్జ}
    \jrow{హాన్ ఎదుట హాజరుపర్చగా ముగ్గురికి రెండు రోజులు, మరో}
    \jrow{ఇద్దరికి ఒక రోజు చొప్పున -ఐదుగురికి జడ్జి జైలు శిక్ష విధిం}
    \jrow{చారు. మిగతా 27 మంది వాహనదారులకు రూ.38,500}
    \erow{జరిమానా విధించారని సీఐ వెల్లడించారు.}};
  \node[hd] (barhead) at (1235,612) {\fitw{358}{బార్ల ఏర్పాటుకు దరఖాస్తుల ఆహ్వానం}};
  \node[txt=179pt] (bartext) at (1235,668) {%
    \jrow{వినాయక్‌నగర్, మే15: నిజామాబాద్ జిల్లాలో బార్ల ఏర్పా}
    \jrow{టుకు దరఖాస్తులు ఆహ్వానిస్తున్నట్లు ప్రొహిబిషన్, ఎక్సైజ్ శాఖ}
    \jrow{సూపరింటెండెంట్ కె.మల్లారెడ్డి గురువారం ఒక ప్రకటనలో}
    \jrow{వెల్లడించారు. నిజామాబాద్ మున్సిపల్ కార్పొరేషన్ పరిధిలో}
    \jrow{గతంలో నోటిఫై చేసిన 2-బి(1), బోధన్ మున్సిపాలిటీ పరి}
    \jrow{ధిలో 2-బి(1) బార్లకు కొత్తగా దరఖాస్తులు స్వీకరిస్తున్నట్లు}
    \jrow{తెలిపారు. ఈ నెల 15వ తేదీ నుంచి జూన్ 6వ తేదీ}
    \jrow{సాయంత్రం 5 గంటల లోగా జిల్లా ఎక్సైజ్ కార్యాలయంలో}
    \jrow{దరఖాస్తులు చేసుకోవాలని సూచించారు. జూన్ 13వ తేదీ}
    \jrow{ఉదయం 11 గంటలకు కలెక్టరేట్‌లో కలెక్టర్ ఆధ్వర్యంలో డ్రా}
    \erow{పద్ధతిన ఎంపిక చేయనున్నట్లు తెలిపారు.}};
  \node[hd] (farmhead) at (1235,930) {\fitw{330}{నేడు రైతులకు అవగాహన సదస్సు}};
  \node[txt=179pt] (farmtext) at (1235,987) {%
    \jrow{కోటగిరి, మే 15: మండలంలోని యాద్గార్‌పూర్ గ్రామంలో}
    \jrow{శుక్రవారం ఉదయం 8 గంటలకు రైతు ముంగిట్లో శాస్త్రవేత్తలు}
    \jrow{అనే కార్యక్రమంలో భాగంగా రైతుకు పంటల సాగుపై అవగా}
    \jrow{హన సదస్సు నిర్వహించనున్నట్లు మండల వ్యవసాయాధికారి}
    \jrow{రాజు గురువారం ఒక ప్రకటనలో తెలిపారు. కార్యక్రమానికి}
    \jrow{రుద్రూర్ చెరుకు-వరి పరిశోధన కేంద్రం శాస్త్రవేత్తలు రాకేశ్,}
    \jrow{సత్రీన్, పద్మావతి హాజరై రైతులకు పలు అంశాలపై అవగా}
    \jrow{హన కల్పిస్తారని పేర్కొన్నారు. అవకాశాన్ని సద్వినియోగం}
    \erow{చేసుకోవాలని కోరారు.}};
  \node[hd] (sandhead) at (1235,1192) {\fitw{203}{ఇసుక ట్రాక్టర్ల పట్టివేత}};
  \node[txt=179pt] (sandtext) at (1235,1252) {%
    \jrow{సిరికొండ, మే 15: మండలంలోని కొండాపూర్ శివారులోని}
    \jrow{వాగు నుంచి అక్రమంగా ఇసుక తరలిస్తున్న రెండు ట్రాక్టర్లను}
    \jrow{పట్టుకుని రెవెన్యూ అధికారులకు అప్పగించినట్లు ఎస్సై రాము}
    \jrow{తెలిపారు. పట్టుకున్న ట్రాక్టర్లను ఆర్ఐ గంగారాజంకు}
    \jrow{పరిశీలించారు. డ్రైవర్లపై కేసు నమోదు చేసినట్లు తెలిపారు.}
    \jrow{ప్రభుత్వ అనుమతులు లేకుండా అక్రమంగా ఇసుక తరలిస్తే}
    \erow{కఠిన చర్యలు తీసుకుంటామని ఎస్సై హెచ్చరించారు.}};
  \node[hd] (schoolhead) at (1254,1438) {\fitwh{324}{40}{మైనారిటీ గురుకులంలో ప్రవేశాలు}};
  \node[txt=179pt] (schooltext) at (1235,1498) {%
    \jrow{రెంజల్, మే 15: మండల కేంద్రంలోని మైనారిటీ గురుకుల}
    \jrow{పాఠశాల, కళాశాలలో ప్రవేశానికి విద్యార్థినులు దరఖాస్తు చేసు}
    \jrow{కోవాలని ప్రిన్సిపాల్ అర్షియానాజమ్ బుధవారం ఒక ప్రకట}
    \jrow{నలో తెలిపారు. పాఠశాలలో 5వ తరగతి, కళాశాలలో ఎంపీసీ,}
    \jrow{బైపీసీ మొదటి సంవత్సరంలో ప్రవేశం కోసం మైనారిటీ విద్యా}
    \jrow{ర్థినులు దరఖాస్తు చేసుకోవాలని సూచించారు. ఐదో తరగ}
    \jrow{తిలో ప్రవేశానికి జూన్1, కళాశాలలో ప్రవేశానికి ఈనెల 31తే}
    \erow{దీలో గడువు ఉందని తెలిపారు.}};

  % right block, far column
  \node[hd] (camphead) at (1641,205) {\fitw{270}{వేసవి శిక్షణ శిబిరం ప్రారంభం}};
  \node[txt=217pt] (camptext) at (1641,258) {%
    \jrow[62.5pt]{\hskip6pt కోటగిరి మే 15:}
    \jrow[62.5pt]{మండల కేంద్రంలో}
    \jrow[62.5pt]{ఏర్పాటు చేసిన వేసవి}
    \jrow[62.5pt]{శిక్షణ శిబిరాన్ని విద్యా}
    \jrow[62.5pt]{ర్థులు సద్వినియోగం}
    \erow{చేసుకోవాలని}
    \jrow[62.5pt]{మండల విద్యాధికారి}
    \jrow[62.5pt]{నాందేడ్ల శ్రీనివాస}
    \jrow[62.5pt]{రావు అన్నారు. గురు}
    \jrow[62.5pt]{వారం కోటగిరి జడ్పీ}
    \jrow[62.5pt]{ఉన్నత పాఠశాలలో}
    \jrow[62.5pt]{వేసవి శిక్షణ శిబిరాన్ని}
    \jrow{ఆయన ప్రారంభించారు. విద్యార్థుల అభిరుచికి తగ్గట్టుగా డ్రాయింగ్,}
    \jrow{కరాటే, యోగా, డ్యాన్స్‌లో శిక్షణ ఇవ్వనున్నట్లు తెలిపారు. ఉదయం 9}
    \jrow{గంటల నుంచి 11 గంటల వరకు ఈనెల 31 వరకు వేసవి శిక్షణ శిబిరం}
    \jrow{కొనసాగుతుందన్నారు. కార్యక్రమంలో యోగా శిక్షకురాలు సుజాత,}
    \erow{డ్రాయింగ్ శిక్షకురాలు సువర్ణజ్యోతి, సిబ్బంది ఈర్వంత్ పాల్గొన్నారు.}};
  \node[photocap] (campcap) at (1776,497) {\fitw{292}{శిబిరాన్ని ప్రారంభిస్తున్న ఎంఈవో శ్రీనివాసరావు}};
  \node[hd] (kithead) at (1641,658) {\fitw{317}{యువకులకు క్రికెట్ కిట్ అందజేత}};
  \node[photocap] (kitcap) at (1647,875) {\fitw{421}{యువకులకు క్రికెట్ కిట్ అందజేస్తున్న సామాజిక సేవకర్త ఏంఎ హకీం}};
  \node[txt=217pt] (kittext) at (1641,938) {%
    \jrow{పొతంగల్, మే 15: మండలంలోని జల్లాపల్లి అబాధిలో యువకులకు చైత}
    \jrow{న్యపరిచేందుకు గురువారం సామాజిక సేవా కర్త ఏంఎ హకీమ్ క్రికెట్}
    \jrow{కిట్‌ను అందజేశారు. ఈ సందర్భంగా ఆయన మాట్లాడుతూ.. యువత}
    \jrow{చెడు వ్యసనాలకు దూరంగా ఉండాలని, క్రీడలతో పాటు చదువుల్లో రాణిం}
    \jrow{చాలన్నారు. క్రీడలు మానసిక ఉల్లాసాన్ని ఇస్తాయని పేర్కొన్నారు. అనం}
    \jrow{తరం జల్లాపల్లి ఫారంలో పేద కుటుంబానికి చెందిన రఘు-మీరాబాయి}
    \jrow{దంపతుల రెండో కుమార్తె వివాహానికి తన వంతుగా ఆర్థిక సహాయాన్ని}
    \jrow{అందజేశారు. ఆయన వెంట ఏజాజ్ ఖాన్, షేరు, రాములు, యువకులు}
    \erow{తదితరులు ఉన్నారు.}};
  \node[hd] (bloodhead) at (1641,1156) {\fitw{155}{17 మంది రక్తదానం}};
  \node[photocap] (bloodcap) at (1782,1408) {\fitw{151}{సన్మానిస్తున్న యువకులు}};
  \node[txt=217pt] (bloodtext) at (1641,1473) {%
    \jrow{ఖలీల్‌వాడి, మే 15: రోటరీ క్లబ్ ఆఫ్ జెమ్స్ ఆధ్వర్యంలో గురువారం రెడ్}
    \jrow{క్రాస్ సొసైటీలో రక్తదాన శిబిరం నిర్వహించారు. క్లబ్ ప్రతినిధులు 17}
    \jrow{మంది రక్తదానం చేశారు. క్లబ్ అధ్యక్షుడు పద్మ శ్రీనివాస్ మాట్లాడుతూ రక్త}
    \jrow{దానం ప్రాణదానమని అన్నారు. ప్రతిఒక్కరూ రక్తదానం చేసేందుకు}
    \jrow{ముందుకు రావాలన్నారు. తమ క్లబ్ సభ్యులు కోటగిరి చంద్రశేఖర్ వంద}
    \jrow{సార్లు రక్తదానం చేసి ఆదర్శంగా నిలిచారని అభినందించారు. కార్యక్ర}
    \jrow{మంలో క్లబ్ ప్రతినిధులు ఆర్.గౌరీశంకర్, సూర్యప్రకాశ్, వీరబ్రహ్మం,}
    \jrow{రమేశ్, డాక్టర్ వినోద్ పవార్, చంద్రశేఖర్, శ్రీనివాస్, రాజశేఖర్, శేఖర్,}
    \erow{రాంప్రసాద్ పాల్గొన్నారు.}};

  % lower right, middle column
  \node[hd, anchor=north] (surveyheada) at (1653,1704) {\fitwh{211}{27}{లైసెన్స్ సర్వేయర్ల శిక్షణకు}};
  \node[hd, anchor=north] (surveyheadb) at (1665,1738) {\fitwh{173}{26}{దరఖాస్తుల ఆహ్వానం}};
  \node[txt=128pt] (surveytext) at (1525,1789) {%
    \jrow{మోర్తాడ్, మే 15 : తెలంగాణ అకాడమీ}
    \jrow{ఆఫ్ ల్యాండ్ ఇన్‌ఫర్మేషన్ అండ్ మేనేజ్}
    \jrow{మెంట్ నుంచి లైసెన్స్ సర్వేయర్ శిక్షణకు}
    \jrow{అర్హత కలిగిన అభ్యర్థుల నుంచి దరఖాస్తు}
    \jrow{లను ఆహ్వానిస్తున్నట్లు తహసీల్దార్ కృష్ణ}
    \jrow{గురువారం ఒక ప్రకటనలో తెలిపారు.}
    \jrow{అర్హత కలిగిన అభ్యర్థులు మీసేవలో ఈనెల}
    \jrow{17 వ తేదీలోగా దరఖాస్తు చేసుకోవాలని}
    \jrow{సూచించారు. ఎంపికైన అభ్యర్థులకు జిల్లా}
    \jrow{కేంద్రంలో 50 పనిదినాల్లో శిక్షణ ఇస్తారని,}
    \jrow{ఈ అవకాశాన్ని యువతీ, యువకులు సద్వి}
    \erow{నియోగం చేసుకోవాలని కోరారు.}};
  \node[hd, anchor=north] (templeheada) at (1653,2070) {\fitwh{208}{27}{23న మారుతీ మందిర}};
  \node[hd, anchor=north] (templeheadb) at (1662,2104) {\fitwh{169}{28}{షెట్టర్ల అద్దెకు వేలం}};
  \node[txt=128pt] (templetext) at (1525,2153) {%
    \jrow{శక్కర్‌నగర్, మే 15 : బోధన్ పట్టణంలోని}
    \jrow{మారుతీ మందిరానికి చెందిన రెండు షెట్ట}
    \jrow{ర్లకు అద్దెకోసం ఈనెల 23న వేలం పాట}
    \jrow{నిర్వహించనున్నట్లు ఆలయ ఈవో రాము}
    \jrow{లు గురువారం ఒక ప్రకటనలో తెలిపారు.}
    \jrow{ఆలయానికి చెందిన రెండు షెట్టర్లకు గాను}
    \jrow{రెండేండ్ల కాలపరిమితికి అద్దెకు ఇవ్వడానికి}
    \jrow{బహిరంగ వేలం నిర్వహిస్తామని, ఈ అవ}
    \jrow{కాశాన్ని వ్యాపారులు సద్వినియోగం చేసు}
    \erow{కోవాలని సూచించారు.}};
  \node[hd] (loanhead) at (1527,2393) {\fitw{249}{జీవాల పెంపకానికి రుణాలు}};
  \node[txt=128pt] (loantext) at (1525,2447) {%
    \jrow{మాక్లూర్, మే15 : ఎన్ఎల్ఎమ్ స్కీం}
    \jrow{ద్వారా 50 శాతం సబ్సిడీతో జీవాల పెంప}
    \jrow{కానికి రూ.కోటి వరకు రుణాన్ని అందజే}
    \jrow{స్తుందని, ఈ స్కీం ద్వారా రైతులు గొర్రెలు,}
    \jrow{మేకలు, పందుల పెంపకం, దాణా మిశ్ర}
    \jrow{మం లాంటివి చేపట్టవచ్చని జిల్లా పశుసం}
    \jrow{వర్ధకశాఖ అధికారి డాక్టర్ రోహిత్‌రెడ్డి తెలి}
    \jrow{పారు. గురువారం ఆయన రైతు వేదికలో}
    \erow{జరిగిన కార్యక్రమంలో మాట్లాడారు.}};
  \node[hd] (awardhead) at (1527,2656) {\fitw{252}{రేపు ప్రతిభా పురస్కారాల అందజేత}};
  \node[txt=128pt] (awardtext) at (1525,2713) {%
    \jrow{ముప్కాల్, మే 15 : మండల కేంద్రంలోని}
    \jrow{జీఎన్ఆర్ ఫంక్షన్ హాల్‌లో శనివారం}
    \jrow{ప్రతిభా పురస్కారాల ప్రదానోత్సవ కార్యక్ర}
    \jrow{మం నిర్వహించనున్నట్లు లయన్స్ క్లబ్ స}
    \jrow{భ్యులు గురువారం ఒక ప్రకటనలో తెలిపా}
    \jrow{రు. మండల స్థాయిలో 2024-25 విద్యా}
    \jrow{సంవత్సరం పదో తరగతిలో 550 పైగా}
    \jrow{మార్కు లు సాధించిన విద్యార్థులకు పుర}
    \erow{స్కారాలు అందజేయనున్నట్లు తెలిపారు.}};
  \node[hd] (composthead) at (1527,2926) {\fitw{252}{కంపోస్ట్ షెడ్డు, నర్సరీ పరిశీలన}};
  \node[txt=128pt] (composttext) at (1525,2982) {%
    \jrow{ఎడపల్లి, మే 15 : మండల కేంద్రంలోని}
    \jrow{గ్రామ పంచాయతీ కార్యాలయంతో పాటు}
    \jrow{నర్సరీ కంపోస్ట్ షెడ్డును పచ్చదనం స్వచ్ఛద}
    \jrow{నంలో భాగంగా కలెక్టర్ రాజీవ్ గాంధీ}
    \jrow{హన్మంతు ఆదేశాల మేరకు గురువారం పరి}
    \jrow{శీలించినట్లు డీపీవో శ్రీనివాస్ తెలిపారు.}
    \jrow{ఆయన వెంట ఎంపీడీవో శంకర్ నాయక్,}
    \jrow{గ్రామ కార్యదర్శి నాగరాజుగౌడ్, ఎంపీవో}
    \erow{మన్మోహన్ శాస్త్రి, సిబ్బంది ఉన్నారు.}};

  % lower right, left column
  \node[hd] (issuehead) at (1235,2740) {\fitw{229}{సమస్యలు పరిష్కరించాలి}};
  \node[txt=127.5pt] (issuetext) at (1235,2788) {%
    \jrow{ఆర్మూర్‌టౌన్,మే 15: ఆర్మూర్ మున్సిపల్}
    \jrow{పరిధిలోని పెర్కిట్ మర్కజ్ కమిటీ నూతన}
    \jrow{అధ్యక్షుడు అబ్దుల్ అజీమ్, కార్యదర్శి}
    \jrow{ముస్సీ, ఉపాధ్యక్షుడు ఆసిఫ్, కార్యవర్గ}
    \jrow{సభ్యులు గురువారం ఎమ్మార్వో సత్యనారా}
    \jrow{యణను మర్యాదపూర్వకంగా కలిసి తమ}
    \erow{సమస్యలు పరిష్కరించాలని కోరారు.}};
  \node[hd] (leafhead) at (1238,2950) {\fitw{179}{కరపత్రాల అందజేత}};
  \node[txt=127.5pt] (leaftext) at (1235,3005) {%
    \jrow{రెంజల్, మే 15 : మండలంలోని కందకుర్తి}
    \jrow{గ్రామ గోదావరినది ఒడ్డున నిర్మించిన శనిదే}
    \jrow{వుడి గుడి వార్షికోత్సవ కరపత్రాలను గురు}
    \jrow{వారం భక్తులకు అందజేశామని సీతారా}
    \jrow{మం త్యాగి మహరాజ్ తెలిపారు. సీతారాం}
    \jrow{ధామ్‌సంత్ ఆశ్రమంలో ఈనెల 19నుంచి}
    \jrow{27వరకు శనిదేవుని ఆలయ వార్షికోత్సవం}
    \erow{నిర్వహించనున్నట్లు పేర్కొన్నారు.}};

  % lower right, far column
  \node[hd] (fruithead) at (1820,1713) {\fitw{251}{విద్యార్థులకు పండ్ల పంపిణీ}};
  \node[txt=127.5pt] (fruittext) at (1820,1765) {%
    \jrow{శక్కర్‌నగర్, మే 15: బోధన్ పట్టణంలోని}
    \jrow{ప్రభుత్వ ఉన్నత పాఠశాల (జేసీ)లో వేసవి}
    \jrow{శిక్షణకు హాజరైన విద్యార్థినీ విద్యార్థులకు}
    \jrow{గురువారం బోధన్ పట్టణ సీఐ వెంకట}
    \jrow{నారాయణ పండ్లు పంపిణీ చేశారు. కార్యక్ర}
    \jrow{మంలో పట్టణ సీఐ వెంకట నారాయణ,}
    \erow{ఉపాధ్యాయులు, విద్యార్థులు పాల్గొన్నారు.}};
  \node[hd] (auditheada) at (1820,1932) {\fitwh{160}{30}{సామాజిక తనిఖీ}};
  \node[hd] (auditheadb) at (1820,1970) {\fitwh{192}{30}{వివరాలపై ప్రజావేదిక}};
  \node[photocap, anchor=north] (auditcap) at (1957,2214) {\fitw{249}{భీమ్‌గల్‌లో ఈజీఎస్ సామాజిక తనిఖీ}\\\fitw{240}{ప్రజావేదికలో పాల్గొన్న అధికారులు}};
  \node[txt=127.5pt] (audittext) at (1820,2300) {%
    \jrow{భీమ్‌గల్, మే 15: మండల కేంద్రంలోని}
    \jrow{ఎంపీడీవో కార్యాలయంలో గురువారం}
    \jrow{16వ విడత ఈజీఎస్ సామాజిక తనిఖీ}
    \jrow{ప్రజావేదిక కార్యక్రమం నిర్వహించారు.}
    \jrow{కార్యక్రమంలో జిల్లా గ్రామీణాభివృద్ధి}
    \jrow{అధికారి సాయాగౌడ్, విజిలెన్స్ అధికారి}
    \jrow{మైసల నారాయణ, అంబుడ్స్‌మెన్}
    \jrow{శ్రీనివాసరావు, ఎంపీడీవో గంగుల సంతోష్}
    \jrow{కుమార్, ఈజీఎస్ ఏపీవో నర్సయ్య,}
    \jrow{సామాజిక తనిఖీ స్టేట్ రిసోర్స్ పర్సన్}
    \jrow{రమేశ్, డీఆర్పీలు, గ్రామ కార్యదర్శులు,}
    \erow{ఉపాధిహామీ సిబ్బంది పాల్గొన్నారు.}};
  \node[anchor=base west, text width=121pt, font=\nsans\fontsize{9.5pt}{12pt}\selectfont,
    execute at begin node={\lineskiplimit=-100pt\lineskip=0pt\relax},
    execute at end node={\unskip\unpenalty}] (namenote) at (1823,2736) {%
    \jrow{{\color{green!55!black}\sym ★}\hskip6pt I, Gadam Bhumaiah S/o. Gaddam}
    \jrow{Gangaram (Old name) R/o. H.No.8-6,}
    \jrow{Yergatla Vill. \& Mdl, Dist. Nizamabad.}
    \erow{Changed my name as \textbf{Gaddam Bhumanna}}
    \erow{\textbf{S/o. Gaddam Gangaram (New name)}}
    \jrow{\hfil\textbf{NTZ- 338443}\hskip4pt}};
\end{tikzpicture}
\end{document}
